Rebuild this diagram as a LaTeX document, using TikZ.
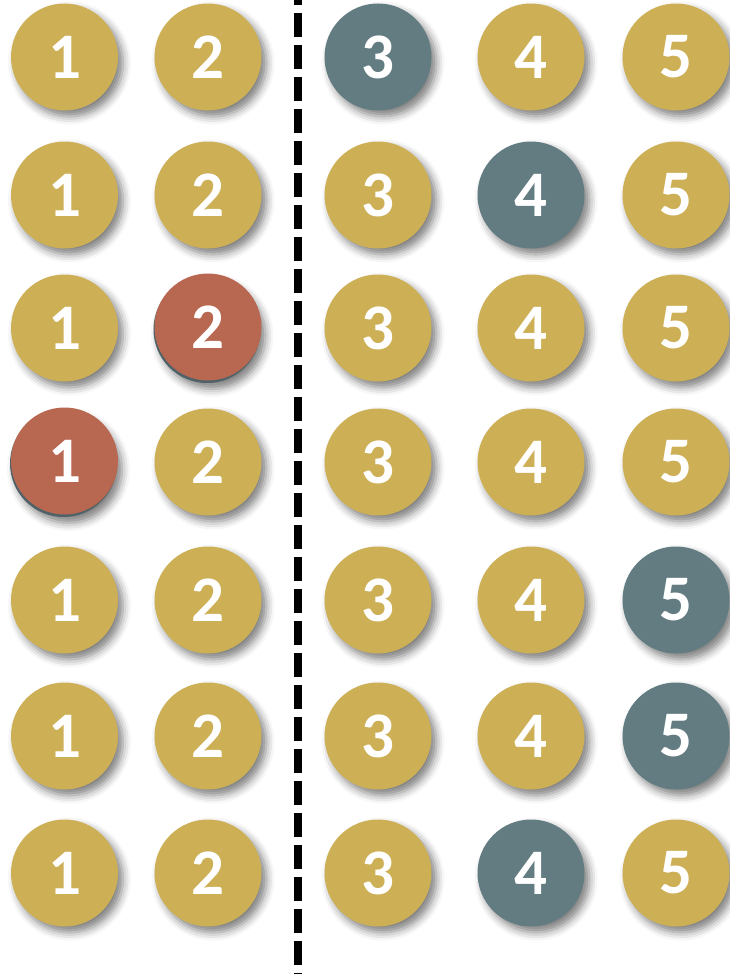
\documentclass[tikz,border=0pt]{standalone}
\usepackage{fontspec}
\setmainfont{Carlito}
\usetikzlibrary{shadows.blur}
\definecolor{gold}{HTML}{CDAF55}
\definecolor{slate}{HTML}{627C82}
\definecolor{brick}{HTML}{B86751}
\definecolor{rim}{HTML}{4E6268}
\begin{document}
\begin{tikzpicture}[x=1pt,y=-1pt,
  ball/.style={circle, minimum size=107pt, inner sep=0pt, text=white,
    font=\fontsize{65}{65}\selectfont\bfseries},
  shadowed/.style={blur shadow={shadow xshift=5pt, shadow yshift=-6pt,
    shadow blur radius=8pt, shadow opacity=50}},
  goldball/.style={ball, shadowed, fill=gold},
  slateball/.style={ball, shadowed, fill=slate},
  brickball/.style={ball, fill=brick},
  rimball/.style={ball, shadowed, fill=rim},
  divider/.style={line width=8pt, dash pattern=on 24pt off 8pt, dash phase=19pt}]
\useasboundingbox (0,0) rectangle (729,974);
% divider
\coordinate (top) at (297.5,0);
\coordinate (bottom) at (297.5,974);
\draw[divider] (top) -- (bottom);
% grid of balls: 0 = gold, 1 = slate, 2 = brick
\def\colx{{64.5,208,378,531,676}}
\foreach \r/\y/\spec in {1/57/{0,0,1,0,0}, 2/195/{0,0,0,1,0}, 3/328/{0,2,0,0,0},
    4/462/{2,0,0,0,0}, 5/600/{0,0,0,0,1}, 6/736/{0,0,0,0,1}, 7/873/{0,0,0,1,0}} {
  \foreach \t [count=\c] in \spec {
    \pgfmathsetmacro{\x}{\colx[\c-1]}
    \ifcase\t
      \node[goldball] (b-\r-\c) at (\x,\y) {\c};
    \or
      \node[slateball] (b-\r-\c) at (\x,\y) {\c};
    \or
      \node[rimball] (rim-\r-\c) at (\x-1,\y+1.5) {};
      \node[brickball] (b-\r-\c) at (\x,\y-1) {\c};
    \fi
  }
}
\end{tikzpicture}
\end{document}
